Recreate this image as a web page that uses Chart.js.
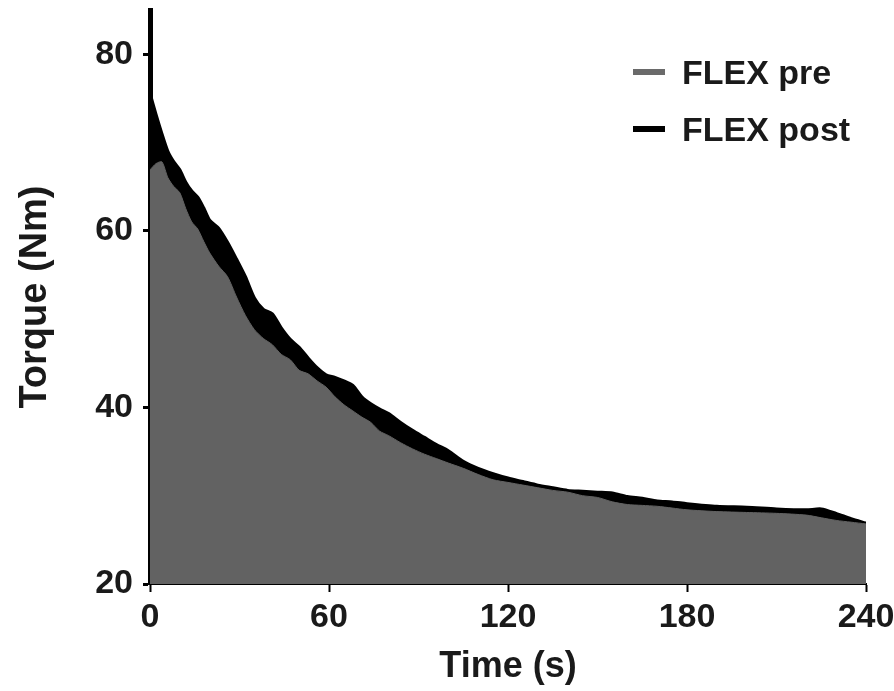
<!DOCTYPE html>
<html>
<head>
<meta charset="utf-8">
<script src="https://cdn.jsdelivr.net/npm/chart.js@4/dist/chart.umd.min.js"></script>
<style>
	html, body { margin: 0; padding: 0; background: #fff; }
	#wrap { width: 894px; height: 691px; }
</style>
</head>
<body>
<div id="wrap"><canvas id="torqueChart" width="894" height="691"></canvas></div>
<script>
// Time (s)
var timeSec = [0, 2, 4, 6, 8, 10, 12, 14, 16, 18, 20, 23, 26, 29, 32, 35, 38, 41, 44, 47, 50,
	53, 56, 59, 62, 65, 68, 71, 74, 77, 80, 84, 88, 92, 96, 100, 105, 110, 115, 120, 125,
	130, 135, 140, 145, 150, 155, 160, 165, 170, 175, 180, 190, 200, 210, 220, 225, 230, 235, 240];

// Torque (Nm), FLEX pre (grey)
var flexPre = [66.9, 67.6, 67.8, 66.0, 65.0, 64.3, 62.5, 61.0, 60.2, 58.8, 57.5, 56.0, 54.8, 52.5, 50.4, 48.8, 47.8, 47.1, 46.0, 45.4, 44.2,
	43.8, 43.0, 42.3, 41.2, 40.3, 39.6, 38.9, 38.3, 37.3, 36.8, 36.0, 35.3, 34.7, 34.2, 33.7, 33.1, 32.4, 31.8, 31.5, 31.2,
	30.9, 30.6, 30.4, 30.0, 29.8, 29.3, 29.0, 28.9, 28.8, 28.6, 28.4, 28.2, 28.1, 28.0, 27.8, 27.5, 27.2, 27.0, 26.8];

// Torque (Nm), FLEX post (black)
var flexPost = [75.6, 73.2, 71.0, 69.0, 67.8, 66.9, 65.5, 64.5, 63.8, 62.6, 61.2, 60.3, 58.7, 56.8, 54.8, 52.4, 51.1, 50.6, 49.0, 47.7, 46.8,
	45.6, 44.5, 43.7, 43.4, 43.0, 42.5, 41.2, 40.4, 39.8, 39.3, 38.3, 37.4, 36.6, 35.8, 35.1, 33.9, 33.1, 32.5, 32.0, 31.6,
	31.2, 30.9, 30.6, 30.5, 30.4, 30.3, 29.9, 29.7, 29.4, 29.3, 29.1, 28.8, 28.7, 28.5, 28.4, 28.5, 28.0, 27.4, 26.9];

var seriesLabels = ['FLEX pre', 'FLEX post'];
var xTickValues = [0, 60, 120, 180, 240];
var yTickValues = [20, 40, 60, 80];

var FONT = "'Liberation Sans', Arial, sans-serif";
var GREY = '#626262';

function toPoints(values) {
	return values.map(function (v, i) { return { x: timeSec[i], y: v }; });
}

// Legend drawn inside the plot, top right
var innerLegend = {
	id: 'innerLegend',
	afterDraw: function (chart) {
		var ctx = chart.ctx;
		ctx.save();
		chart.data.datasets.forEach(function (ds, i) {
			var y = 72 + i * 57;
			ctx.fillStyle = ds.legendColor;
			ctx.fillRect(633, y - 3, 32, 6);
			ctx.fillStyle = '#1a1a1a';
			ctx.font = 'bold 34px ' + FONT;
			ctx.textBaseline = 'alphabetic';
			ctx.fillText(ds.label, 682, y + 12);
		});
		ctx.restore();
	}
};

function buildChart() {
	var ctx = document.getElementById('torqueChart');
	return new Chart(ctx, {
		type: 'line',
		data: {
			datasets: [
				{
					label: seriesLabels[0],
					data: toPoints(flexPre),
					borderColor: GREY,
					backgroundColor: GREY,
					legendColor: '#6a6a6a',
					borderWidth: 1,
					fill: 'start',
					tension: 0.25,
					pointRadius: 0
				},
				{
					label: seriesLabels[1],
					data: toPoints(flexPost),
					borderColor: '#000',
					backgroundColor: '#000',
					legendColor: '#000',
					borderWidth: 3,
					fill: 'start',
					tension: 0.25,
					pointRadius: 0
				}
			]
		},
		options: {
			responsive: false,
			animation: false,
			layout: { padding: { top: 10, right: 28, left: 0, bottom: 0 } },
			plugins: {
				legend: { display: false },
				tooltip: { enabled: false }
			},
			scales: {
				x: {
					type: 'linear',
					min: 0,
					max: 240,
					afterBuildTicks: function (scale) {
						scale.ticks = xTickValues.map(function (v) { return { value: v }; });
					},
					afterFit: function (scale) {
						scale.height = 107;
						scale.paddingLeft = 0;
						scale.paddingRight = 0;
					},
					grid: { drawOnChartArea: false, tickLength: 8, tickWidth: 2, tickColor: '#000' },
					border: { display: true, color: '#000', width: 2 },
					ticks: { color: '#1a1a1a', padding: 5, font: { family: FONT, size: 34, weight: 'bold' } },
					title: { display: true, text: 'Time (s)', color: '#1a1a1a', padding: { top: 0, bottom: 2 },
						font: { family: FONT, size: 36, weight: 'bold' } }
				},
				y: {
					min: 20,
					max: 85,
					afterBuildTicks: function (scale) {
						scale.ticks = yTickValues.map(function (v) { return { value: v }; });
					},
					afterFit: function (scale) {
						scale.width = 150;
						scale.paddingTop = 0;
						scale.paddingBottom = 0;
					},
					grid: { drawOnChartArea: false, tickLength: 7, tickWidth: 3, tickColor: '#000' },
					border: { display: true, color: '#000', width: 5 },
					ticks: { color: '#1a1a1a', padding: 10, font: { family: FONT, size: 34, weight: 'bold' } },
					title: { display: true, text: 'Torque (Nm)', color: '#1a1a1a', padding: { top: 13, bottom: 0 },
						font: { family: FONT, size: 38, weight: 'bold' } }
				}
			}
		},
		plugins: [innerLegend]
	});
}

buildChart();
</script>
</body>
</html>
